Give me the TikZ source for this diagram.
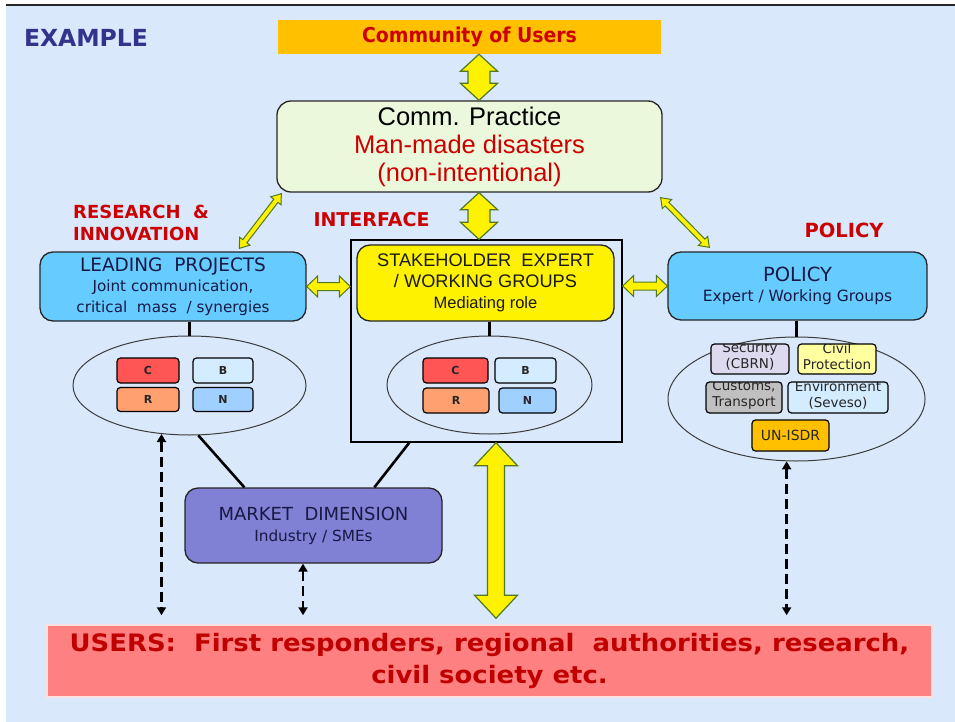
\documentclass[tikz,border=0pt]{standalone}
\usepackage{fontspec}
\setmainfont{DejaVu Sans}
\newfontfamily\vd{DejaVu Sans}
\newfontfamily\ar{Liberation Sans}
\newfontfamily\vdm[FakeStretch=0.92]{DejaVu Sans}
\newfontfamily\vdw[FakeStretch=1.08]{DejaVu Sans}
\usetikzlibrary{calc,arrows.meta,shapes.geometric}
\definecolor{bg}{RGB}{218,232,252}
\definecolor{exblue}{RGB}{51,51,140}
\definecolor{orange1}{RGB}{255,192,0}
\definecolor{red1}{RGB}{204,0,0}
\definecolor{red2}{RGB}{192,0,0}
\definecolor{cpfill}{RGB}{236,248,220}
\definecolor{skyb}{RGB}{102,204,255}
\definecolor{mkt}{RGB}{128,128,212}
\definecolor{usr}{RGB}{255,128,128}
\definecolor{navy1}{RGB}{25,25,70}
\definecolor{agreen}{RGB}{80,120,30}
\definecolor{ellgray}{RGB}{60,60,60}
\definecolor{sC}{RGB}{255,85,85}
\definecolor{sB}{RGB}{212,236,255}
\definecolor{sR}{RGB}{255,160,112}
\definecolor{sN}{RGB}{160,208,255}
\definecolor{pSec}{RGB}{221,218,240}
\definecolor{pCiv}{RGB}{255,255,160}
\definecolor{pCus}{RGB}{192,192,192}
\newcommand\fs[2]{\fontsize{#1}{#2}\selectfont}
\newcommand\dblarr[6][]{%
\filldraw[fatar,#1] (#2) -- ($(#2)!#6!(#3)!#5!90:(#3)$) -- ($(#2)!#6!(#3)!#4!90:(#3)$) -- ($(#3)!#6!(#2)!#4!-90:(#2)$) -- ($(#3)!#6!(#2)!#5!-90:(#2)$) -- (#3) -- ($(#3)!#6!(#2)!#5!90:(#2)$) -- ($(#3)!#6!(#2)!#4!90:(#2)$) -- ($(#2)!#6!(#3)!#4!-90:(#3)$) -- ($(#2)!#6!(#3)!#5!-90:(#3)$) -- cycle;}
% clipped policy sub-box: name, position, width, height, fill, text, vertical shift of text
\newcommand\pnode[7]{%
\node[pbox, fill=#5, minimum width=#3, minimum height=#4,
  path picture={\node[ptext] (#1t) at ($(path picture bounding box.center)+(0,#7)$) {#6};}] (#1) at (#2) {};}
\tikzset{
  rbox/.style={draw=black!85, line width=1.3pt, rounded corners=13pt, inner sep=0, align=center},
  sbox/.style={draw=black, line width=1.2pt, rounded corners=3.5pt, inner sep=0, font=\vd\bfseries\fs{11}{12}, text=black!85},
  pbox/.style={draw=black, line width=1.2pt, rounded corners=3.5pt, inner sep=0},
  ptext/.style={font=\vd\fs{13.5}{16}, text=black!85, align=center, inner sep=0},
  ell/.style={ellipse, draw=ellgray, line width=1pt, inner sep=0},
  lab/.style={font=\vd\bfseries\fs{19}{22}, text=red1, inner sep=0},
  conn/.style={line width=2.6pt, draw=black},
  fatar/.style={fill=yellow, draw=agreen, line width=1.2pt, line join=miter},
  dasharr/.style={line width=2.8pt, dash pattern=on 10pt off 5pt, {Triangle[width=9pt,length=8pt]}-{Triangle[width=9pt,length=8pt]}}
}
\begin{document}
\begin{tikzpicture}[x=1pt,y=-1pt]
\useasboundingbox (0,0) rectangle (955,722);
\fill[white] (0,0) rectangle (955,722);
\fill[bg] (6,6) rectangle (955,722);
\draw[line width=2.2pt, black!85] (6,5) -- (955,5);

\node[font=\vd\bfseries\fs{23.5}{25}, text=exblue, inner sep=0] (ex) at (86,38) {EXAMPLE};
\node[fill=orange1, minimum width=383pt, minimum height=34pt, inner sep=0, font=\vdm\bfseries\fs{20.5}{24}, text=red1] (comm) at (469.5,37) {Community of Users};
\node[rbox, fill=cpfill, minimum width=385pt, minimum height=91pt, rounded corners=14pt, font=\ar\fs{25.5}{28}] (cp) at (469.5,146.5) {Comm. Practice\\\textcolor{red1}{Man-made disasters}\\\textcolor{red1}{(non-intentional)}};

\node[lab, align=left, font=\vd\bfseries\fs{18}{22}] (ri) at (141,223) {RESEARCH\ \ \&\\INNOVATION};
\node[lab] (ifl) at (371.5,220) {INTERFACE};
\node[lab, font=\vd\bfseries\fs{19.5}{22}] (pl) at (844,230) {POLICY};

\node[draw=black, line width=1.4pt, minimum width=271pt, minimum height=202pt, inner sep=0] (iface) at (486.5,341) {};
\node[rbox, fill=skyb, minimum width=266pt, minimum height=69pt, font=\vd\fs{15.2}{20.5}, text=navy1] (lp) at (173,286.5) {{\fs{18.5}{20.5}LEADING\ \ PROJECTS}\\Joint communication,\\critical\ \ mass\ \ / synergies};
\node[rbox, fill=yellow, minimum width=257pt, minimum height=76pt, font=\ar\fs{18.2}{21}, text=black!90] (sh) at (485.5,283) {STAKEHOLDER\ \ EXPERT\\/ WORKING GROUPS\\{\fs{16.5}{21}Mediating role}};
\node[rbox, fill=skyb, minimum width=259pt, minimum height=68pt, font=\vd\fs{15.5}{20}, text=navy1] (pol) at (797.5,286) {{\fs{19.5}{20}POLICY}\\Expert / Working Groups};

\node[ell, minimum width=233pt, minimum height=99pt] (lpE) at (189.5,385.5) {};
\node[ell, minimum width=205pt, minimum height=98pt] (shE) at (489.5,385) {};
\node[ell, minimum width=257pt, minimum height=124pt] (polE) at (796.5,399) {};

\node[sbox, fill=sC, minimum width=62pt, minimum height=25pt] (lC) at (148,370.5) {C};
\node[sbox, fill=sB, minimum width=60pt, minimum height=25pt] (lB) at (223,370.5) {B};
\node[sbox, fill=sR, minimum width=62pt, minimum height=24pt] (lR) at (148,399.5) {R};
\node[sbox, fill=sN, minimum width=60pt, minimum height=24pt] (lN) at (223,399.5) {N};

\node[sbox, fill=sC, minimum width=65pt, minimum height=25pt] (iC) at (455.5,370.5) {C};
\node[sbox, fill=sB, minimum width=61pt, minimum height=25pt] (iB) at (525.5,370.5) {B};
\node[sbox, fill=sR, minimum width=66pt, minimum height=25pt] (iR) at (456,400.5) {R};
\node[sbox, fill=sN, minimum width=57pt, minimum height=25pt] (iN) at (527.5,400.5) {N};

\pnode{pS}{750,359}{78pt}{30pt}{pSec}{Security\\(CBRN)}{-3}
\pnode{pC}{837,359}{78pt}{30pt}{pCiv}{Civil\\Protection}{-3}
\pnode{pT}{744,397.5}{76pt}{31pt}{pCus}{Customs,\\Transport}{-2.5}
\pnode{pE}{838,397.5}{100pt}{31pt}{sB}{Environment\\(Seveso)}{-2.5}
\node[pbox, fill=orange1, minimum width=77pt, minimum height=31pt, font=\vd\fs{14}{16}, text=black!85] (pU) at (790.5,435.5) {UN-ISDR};

\node[rbox, fill=mkt, minimum width=257pt, minimum height=75pt, font=\vd\fs{15.3}{21}, text=navy1] (mk) at (313.5,525.5) {{\fs{18}{21}MARKET\ \ DIMENSION}\\Industry / SMEs};

\node[fill=usr, draw={rgb,255:red,255;green,225;blue,225}, line width=1.5pt, minimum width=885pt, minimum height=72pt, inner sep=0, align=center, font=\vdw\bfseries\fs{24}{32.5}, text=red2] (users) at (489.5,661) {USERS:\ \ First responders,\ regional\ \ authorities,\ research,\\civil society etc.};

% connectors
\draw[conn] (lp.south -| lpE.north) -- (lpE.north);
\draw[conn] (sh.south -| shE.north) -- (shE.north);
\draw[conn] (pol.south -| polE.north) -- (polE.north);
\draw[conn] (lpE.-80) -- ($(mk.north west)+(60,0)$);
\draw[conn] ($(iface.south west)+(59,0)$) -- ($(mk.north west)+(190,0)$);

% fat arrows
\coordinate (a1s) at ($(comm.south)+(9.5,0)$);
\coordinate (a1e) at ($(cp.north)+(9.5,0)$);
\coordinate (a2s) at ($(cp.south)+(9.5,0)$);
\coordinate (a2e) at (a2s |- iface.north);
\coordinate (a3s) at ($(iface.south)+(9.5,0)$);
\coordinate (a3e) at ($(a3s |- users.north)+(0,-6)$);
\dblarr{a1s}{a1e}{11pt}{18.5pt}{17pt}
\dblarr{a2s}{a2e}{11pt}{18.5pt}{17pt}
\dblarr{a3s}{a3e}{8.5pt}{21.5pt}{23pt}

\coordinate (d1s) at ($(cp.south west)+(5,1)$);
\coordinate (d1e) at ($(lp.north west)+(200,-3)$);
\coordinate (d2s) at ($(cp.south east)+(-2,5)$);
\coordinate (d2e) at ($(pol.north west)+(42,-4)$);
\dblarr[line width=1pt]{d1s}{d1e}{2.6pt}{6.5pt}{9pt}
\dblarr[line width=1pt]{d2s}{d2e}{2.6pt}{6.5pt}{9pt}

\coordinate (h1s) at (lp.east);
\coordinate (h1e) at (iface.west |- lp.east);
\coordinate (h2s) at (iface.east |- pol.west);
\coordinate (h2e) at (pol.west);
\dblarr[line width=1pt]{h1s}{h1e}{4pt}{10.5pt}{11pt}
\dblarr[line width=1pt]{h2s}{h2e}{4pt}{10.5pt}{11pt}

% dashed arrows
\coordinate (v1t) at (lpE.-120);
\coordinate (v1b) at ($(v1t |- users.north)+(0,-9)$);
\coordinate (v2t) at ($(mk.south)+(-10.5,0)$);
\coordinate (v2b) at ($(v2t |- users.north)+(0,-9)$);
\coordinate (v3t) at (polE.-99);
\coordinate (v3b) at ($(v3t |- users.north)+(0,-9)$);
\draw[dasharr] (v1t) -- (v1b);
\draw[dasharr] (v2t) -- (v2b);
\draw[dasharr] (v3t) -- (v3b);
\end{tikzpicture}
\end{document}
